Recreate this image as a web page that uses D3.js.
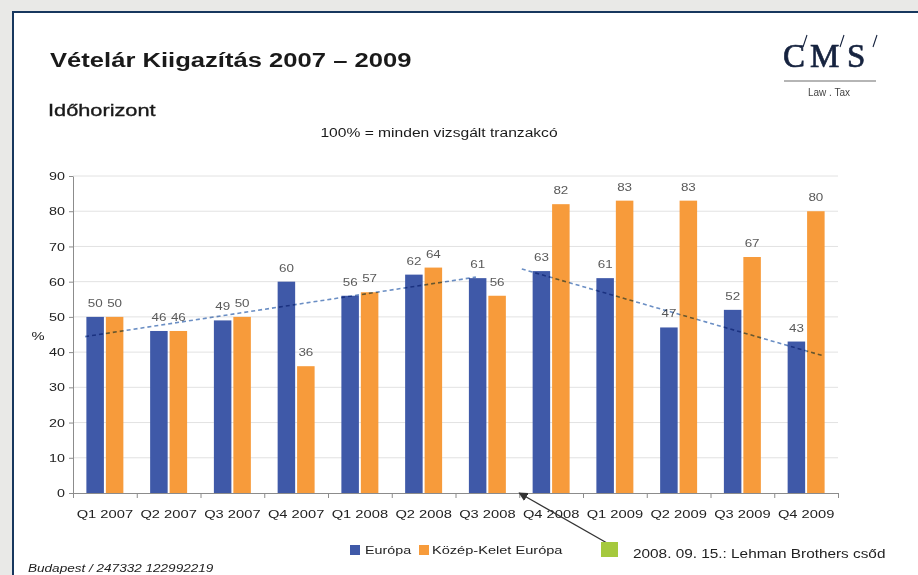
<!DOCTYPE html>
<html>
<head>
<meta charset="utf-8">
<script src="https://cdn.jsdelivr.net/npm/d3@7"></script>
<style>
  html, body { margin: 0; padding: 0; background: #e9e9e7; }
  svg { display: block; font-family: "Liberation Sans", Arial, sans-serif; }
</style>
</head>
<body>
<svg id="chart" width="918" height="575"></svg>
<script>
// ---------- data ----------
const categories = ["Q1 2007","Q2 2007","Q3 2007","Q4 2007","Q1 2008","Q2 2008",
                    "Q3 2008","Q4 2008","Q1 2009","Q2 2009","Q3 2009","Q4 2009"];
const europa = [50,46,49,60,56,62,61,63,61,47,52,43];
const kozepKelet = [50,46,50,36,57,64,56,82,83,83,67,80];
const seriesNames = ["Európa","Közép-Kelet Európa"];
const yTicks = [0,10,20,30,40,50,60,70,80,90];
// trend lines: [category position, value]
const trendBefore = [[0.19,44.4],[6.32,61.3]];
const trendAfter  = [[7.04,63.6],[11.76,39.0]];
const lehmanPos = 7; // boundary Q3 2008 / Q4 2008
const lehmanLabel = "2008. 09. 15.: Lehman Brothers csőd";

// ---------- layout ----------
const W = 918, H = 575;
const plot = {left: 73, right: 838, top: 176, bottom: 493};
const SX = 1.28; // horizontal stretch of the slide text
const blue = "#3f59a8", orange = "#f79b3b", green = "#a5c93d";
const navy = "#17375e";

const svg = d3.select("#chart");

// frame
svg.append("rect").attr("x",0).attr("y",0).attr("width",W).attr("height",H).attr("fill","#e9e9e7");
svg.append("rect").attr("x",13).attr("y",12).attr("width",W).attr("height",H)
  .attr("fill","#ffffff").attr("stroke",navy).attr("stroke-width",2);

function txt(parent, x, y, str, o) {
  o = o || {};
  const g = parent.append("g").attr("transform", `translate(${x},${y}) scale(${o.sx||SX},1)`);
  const t = g.append("text").text(str)
    .attr("font-size", o.size || 12)
    .attr("fill", o.fill || "#222")
    .attr("text-anchor", o.anchor || "start")
    .attr("font-weight", o.weight || "normal")
    .attr("font-style", o.style || "normal");
  if (o.family) t.attr("font-family", o.family);
  return t;
}

// titles
txt(svg, 50, 67, "Vételár Kiigazítás 2007 – 2009", {size: 20, weight: "bold", fill: "#1a1a1a"});
txt(svg, 48, 116, "Időhorizont", {size: 17, fill: "#1a1a1a"}).attr("stroke","#1a1a1a").attr("stroke-width",0.35);
txt(svg, 439, 137, "100% = minden vizsgált tranzakcó", {size: 12.2, anchor: "middle", fill: "#1a1a1a"});

// logo
const logo = svg.append("g");
const serif = "'Liberation Serif', 'DejaVu Serif', serif";
[["C",783],["M",810],["S",847]].forEach(([ch,x]) => {
  txt(logo, x, 67, ch, {size: 33, sx: 1, family: serif, fill: "#16233f"})
    .attr("stroke","#16233f").attr("stroke-width",0.7);
});
[803, 840, 873].forEach(x => {
  logo.append("line").attr("x1",x).attr("y1",47).attr("x2",x+4).attr("y2",35)
    .attr("stroke","#16233f").attr("stroke-width",1.1);
});
logo.append("line").attr("x1",784).attr("x2",876).attr("y1",81).attr("y2",81)
  .attr("stroke","#b5b5b5").attr("stroke-width",2);
txt(logo, 829, 96, "Law . Tax", {size: 10, sx: 1, anchor: "middle", fill: "#444"});

// ---------- scales ----------
const y = d3.scaleLinear().domain([0,90]).range([plot.bottom, plot.top]);
const x0 = d3.scaleBand().domain(categories).range([plot.left, plot.right])
  .paddingInner(0.42).paddingOuter(0.21);
const x1 = d3.scaleBand().domain(seriesNames).range([0, x0.bandwidth()]).paddingInner(0.1);
const xPos = d3.scaleLinear().domain([0, categories.length]).range([plot.left, plot.right]);

// gridlines
svg.append("g").selectAll("line").data(yTicks.filter(d => d > 0)).join("line")
  .attr("x1", plot.left).attr("x2", plot.right)
  .attr("y1", d => y(d)).attr("y2", d => y(d))
  .attr("stroke", "#e2e2e2").attr("stroke-width", 1);

// bars
const rows = categories.map((c,i) => ({cat: c, vals: [europa[i], kozepKelet[i]]}));
const colors = [blue, orange];
const groups = svg.append("g").selectAll("g").data(rows).join("g")
  .attr("transform", d => `translate(${x0(d.cat)},0)`);
groups.selectAll("rect").data(d => d.vals.map((v,j) => ({v, j}))).join("rect")
  .attr("x", d => x1(seriesNames[d.j]))
  .attr("width", x1.bandwidth())
  .attr("y", d => y(d.v))
  .attr("height", d => y(0) - y(d.v))
  .attr("fill", d => colors[d.j]);

// value labels
groups.each(function(d) {
  const g = d3.select(this);
  d.vals.forEach((v,j) => {
    txt(g, x1(seriesNames[j]) + x1.bandwidth()/2, y(v) - 10, String(v),
      {size: 10.5, anchor: "middle", fill: "#5a5a5a"});
  });
});

// trend lines
const line = d3.line().x(d => xPos(d[0])).y(d => y(d[1]));
[trendBefore, trendAfter].forEach(t => {
  svg.append("path").attr("d", line(t))
    .attr("fill","none").attr("stroke","#6a8ec4").attr("stroke-width",1.6)
    .attr("stroke-dasharray","4,3").style("mix-blend-mode","multiply");
});

// y axis
const yAxis = svg.append("g").attr("transform", `translate(${plot.left},0)`)
  .call(d3.axisLeft(y).tickValues(yTicks).tickSize(4).tickSizeOuter(0));
yAxis.select(".domain").attr("stroke","#8c8c8c");
yAxis.selectAll(".tick line").attr("stroke","#8c8c8c");
yAxis.selectAll("text").attr("font-size",11.2).attr("fill","#222")
  .attr("font-family","'Liberation Sans', Arial, sans-serif")
  .attr("x", -8/SX).attr("transform", `scale(${SX},1)`);

// x axis: boundary ticks
const xTickAxis = svg.append("g").attr("transform", `translate(0,${plot.bottom})`)
  .call(d3.axisBottom(xPos).tickValues(d3.range(categories.length + 1)).tickFormat("").tickSize(5).tickSizeOuter(0));
xTickAxis.select(".domain").attr("stroke","#8c8c8c");
xTickAxis.selectAll(".tick line").attr("stroke","#8c8c8c");
// x labels
const xLab = svg.append("g").attr("transform", `translate(0,${plot.bottom})`)
  .call(d3.axisBottom(x0).tickSize(0));
xLab.select(".domain").remove();
xLab.selectAll("text").attr("font-size",11.5).attr("fill","#222")
  .attr("font-family","'Liberation Sans', Arial, sans-serif")
  .attr("y", 25).attr("dy", 0).attr("transform", `scale(${SX},1)`);

// % label
txt(svg, 38, 340, "%", {size: 11.5, anchor: "middle", fill: "#222"});

// legend
const lg = svg.append("g");
lg.append("rect").attr("x",350).attr("y",545).attr("width",10).attr("height",10).attr("fill",blue);
txt(lg, 365, 554, seriesNames[0], {size: 11.2, fill: "#222"});
lg.append("rect").attr("x",419).attr("y",545).attr("width",10).attr("height",10).attr("fill",orange);
txt(lg, 432, 554, seriesNames[1], {size: 11.4, fill: "#222"});

// Lehman annotation
svg.append("defs").append("marker").attr("id","arrow").attr("viewBox","0 0 10 10")
  .attr("refX",9).attr("refY",5).attr("markerWidth",7).attr("markerHeight",7)
  .attr("orient","auto-start-reverse")
  .append("path").attr("d","M0,0 L10,5 L0,10 z").attr("fill","#333");
svg.append("line").attr("x1",607).attr("y1",543)
  .attr("x2",xPos(lehmanPos)).attr("y2",y(0))
  .attr("stroke","#333").attr("stroke-width",1.3).attr("marker-end","url(#arrow)");
svg.append("rect").attr("x",601).attr("y",542).attr("width",17).attr("height",15).attr("fill",green);
txt(svg, 633, 558, lehmanLabel, {size: 12, fill: "#222"});

// footer
txt(svg, 28, 572, "Budapest / 247332 122992219", {size: 10.6, style: "italic", fill: "#222"});
</script>
</body>
</html>
